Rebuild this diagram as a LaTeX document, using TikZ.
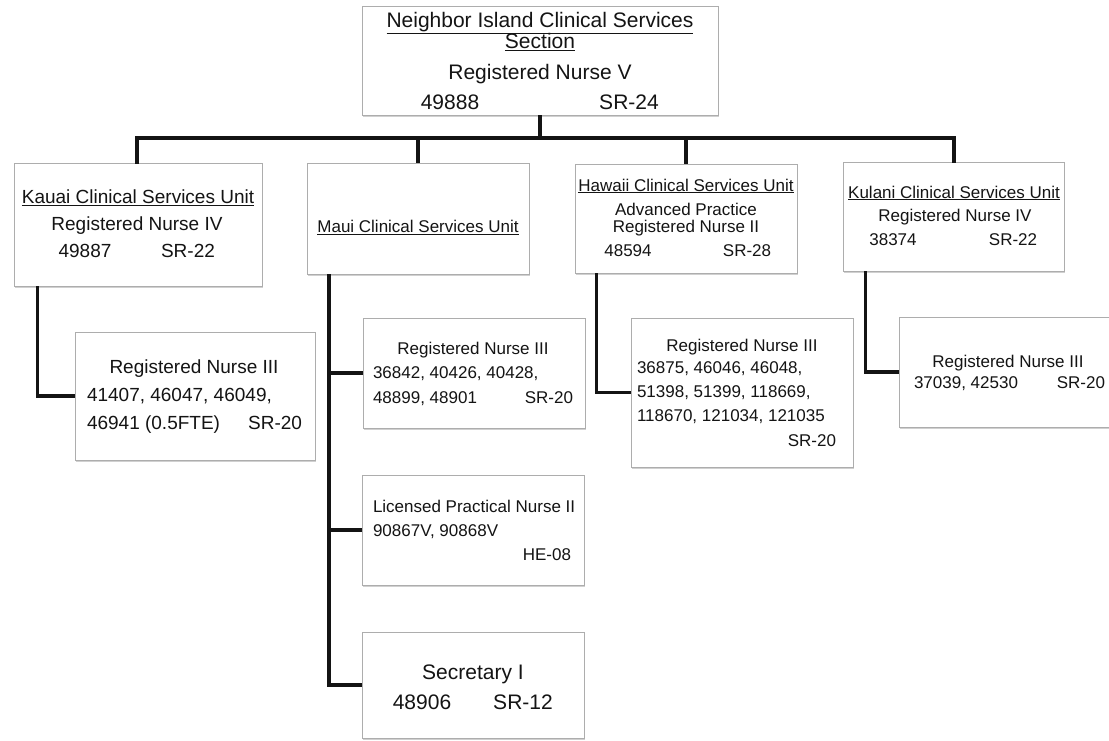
\documentclass[tikz,border=0pt]{standalone}
\usepackage{fontspec}
\setmainfont{Liberation Sans}
\usetikzlibrary{shadows}
\newcommand\myfs[1]{\fontsize{#1}{#1}\selectfont}
\begin{document}
\begin{tikzpicture}[x=1pt,y=-1pt,
  box/.style={draw=black!32, line width=0.7pt, fill=white, rectangle, inner sep=0pt,
    drop shadow={shadow xshift=0.8pt, shadow yshift=-2.2pt, opacity=0.3, fill=black!60}},
  conn/.style={line width=3.4pt, draw=black!92},
  txt/.style={inner sep=0pt, outer sep=0pt, text=black!92},
  fA/.style={font=\myfs{21}},
  fB/.style={font=\myfs{19}},
  fC/.style={font=\myfs{17}}]
\useasboundingbox[fill=white] (0,0) rectangle (1109,741);

% ---- boxes ----
\node[box, minimum width=356pt, minimum height=109pt] (top) at (540,60.5) {};
\node[box, minimum width=248pt, minimum height=123pt] (kauai) at (138,224.5) {};
\node[box, minimum width=222pt, minimum height=111pt] (maui) at (418,218.5) {};
\node[box, minimum width=222pt, minimum height=109pt] (hawaii) at (686,218.5) {};
\node[box, minimum width=221pt, minimum height=109pt] (kulani) at (953.5,216.5) {};
\node[box, minimum width=240pt, minimum height=128pt] (kr3) at (195,396) {};
\node[box, minimum width=222pt, minimum height=110pt] (mr3) at (474,373) {};
\node[box, minimum width=222pt, minimum height=110pt] (lpn) at (473,530) {};
\node[box, minimum width=222pt, minimum height=106pt] (sec) at (473,685) {};
\node[box, minimum width=222pt, minimum height=149pt] (hr3) at (742,392.5) {};
\node[box, minimum width=226pt, minimum height=110pt] (ur3) at (1012,372) {};

% ---- connectors ----
\coordinate (busL) at (137,138);
\coordinate (busR) at (954,138);
\draw[conn] (top.south) -- (top.south |- busL);
\draw[conn, line cap=rect] (kauai.north -| busL) -- (busL) -- (busR) -- (kulani.north -| busR);
\draw[conn] (maui.north) -- (maui.north |- busL);
\draw[conn] (hawaii.north) -- (hawaii.north |- busL);

\draw[conn] (kauai.south west) ++(24,0) |- (kr3.west);
\coordinate (mv) at (329,274);
\draw[conn] (mv) |- (sec.west);
\draw[conn] (mr3.west) -- (mr3.west -| mv);
\draw[conn] (lpn.west) -- (lpn.west -| mv);
\draw[conn] (hawaii.south west) ++(22,0) |- (hr3.west);
\draw[conn] (kulani.south west) ++(23,0) |- (ur3.west);

% ---- texts: top ----
\node[txt,fA,anchor=base] (t1) at (540,27.5) {\underline{Neighbor Island Clinical Services}};
\node[txt,fA,anchor=base] (t2) at (540,48.5) {\underline{Section}};
\node[txt,fA,anchor=base] (t3) at (540,79.5) {Registered Nurse V};
\node[txt,fA,anchor=base] (t4) at (450,109.5) {49888};
\node[txt,fA,anchor=base] (t5) at (629,109.5) {SR-24};

% ---- Kauai ----
\node[txt,fB,anchor=base] (k1) at (138,203.8) {\underline{Kauai Clinical Services Unit}};
\node[txt,fB,anchor=base] (k2) at (137,230.8) {Registered Nurse IV};
\node[txt,fB,anchor=base] (k3) at (85,257.8) {49887};
\node[txt,fB,anchor=base] (k4) at (188,257.8) {SR-22};

% ---- Maui ----
\node[txt,fC,anchor=base] (m1) at (418,233) {\underline{Maui Clinical Services Unit}};

% ---- Hawaii ----
\node[txt,fC,anchor=base] (h1) at (686,191) {\underline{Hawaii Clinical Services Unit}};
\node[txt,fC,anchor=base] (h2) at (686,215) {Advanced Practice};
\node[txt,fC,anchor=base] (h3) at (686,233) {Registered Nurse II};
\node[txt,fC,anchor=base] (h4) at (628,256) {48594};
\node[txt,fC,anchor=base] (h5) at (747,256) {SR-28};

% ---- Kulani ----
\node[txt,fC,anchor=base] (u1) at (954,198) {\underline{Kulani Clinical Services Unit}};
\node[txt,fC,anchor=base] (u2) at (955,222) {Registered Nurse IV};
\node[txt,fC,anchor=base] (u3) at (893,245) {38374};
\node[txt,fC,anchor=base] (u4) at (1013,245) {SR-22};

% ---- Kauai RN III ----
\node[txt,fB,anchor=base] (kr1) at (194,373.8) {Registered Nurse III};
\node[txt,fB,anchor=base west] (kr2) at (87,401.8) {41407, 46047, 46049,};
\node[txt,fB,anchor=base west] (kr3t) at (87,429.8) {46941 (0.5FTE)};
\node[txt,fB,anchor=base east] (kr4) at (302,429.8) {SR-20};

% ---- Maui RN III ----
\node[txt,fC,anchor=base] (mr1) at (473,354) {Registered Nurse III};
\node[txt,fC,anchor=base west] (mr2) at (373,378) {36842, 40426, 40428,};
\node[txt,fC,anchor=base west] (mr3t) at (373,403) {48899, 48901};
\node[txt,fC,anchor=base east] (mr4) at (573,403) {SR-20};

% ---- LPN ----
\node[txt,fC,anchor=base west] (l1) at (373,512) {Licensed Practical Nurse II};
\node[txt,fC,anchor=base west] (l2) at (373,536) {90867V, 90868V};
\node[txt,fC,anchor=base east] (l3) at (571,560) {HE-08};

% ---- Secretary ----
\node[txt,fA,anchor=base] (s1) at (473,679.5) {Secretary I};
\node[txt,fA,anchor=base] (s2) at (422,709.5) {48906};
\node[txt,fA,anchor=base] (s3) at (523,709.5) {SR-12};

% ---- Hawaii RN III ----
\node[txt,fC,anchor=base] (hr1) at (742,351) {Registered Nurse III};
\node[txt,fC,anchor=base west] (hr2) at (637,373) {36875, 46046, 46048,};
\node[txt,fC,anchor=base west] (hr3t) at (637,397) {51398, 51399, 118669,};
\node[txt,fC,anchor=base west] (hr4) at (637,421) {118670, 121034, 121035};
\node[txt,fC,anchor=base east] (hr5) at (836,446) {SR-20};

% ---- Kulani RN III ----
\node[txt,fC,anchor=base] (ur1) at (1008,367) {Registered Nurse III};
\node[txt,fC,anchor=base west] (ur2) at (914,388) {37039, 42530};
\node[txt,fC,anchor=base east] (ur3t) at (1105,388) {SR-20};
\end{tikzpicture}
\end{document}
